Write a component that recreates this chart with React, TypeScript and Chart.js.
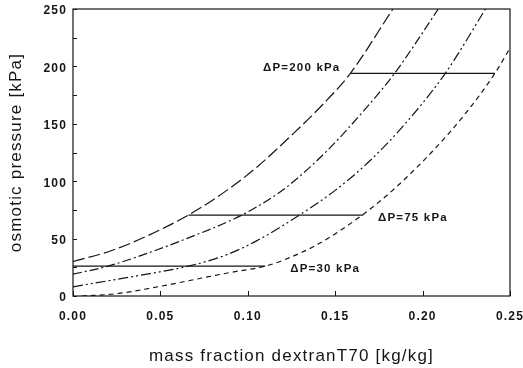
import React, { useEffect, useRef } from "react";
import { Chart, registerables } from "chart.js";

Chart.register(...registerables);

const INK = "#151515";
const FONT = '"Liberation Sans", Arial, Helvetica, sans-serif';

// axis ticks
const X_TICKS = [0, 0.05, 0.1, 0.15, 0.2, 0.25];
const Y_TICKS = [0, 50, 100, 150, 200, 250];
const Y_MINOR = [25, 75, 125, 175, 225];

// curve 1 (long dash)
const C1_X = [0, 0.021, 0.042, 0.066, 0.088, 0.105, 0.125, 0.143, 0.1587, 0.183];
const C1_Y = [30, 39, 52, 70.5, 92, 112, 140, 167, 194, 250];
// curve 2 (dash-dot)
const C2_X = [0, 0.02, 0.044, 0.065, 0.096, 0.113, 0.124, 0.145, 0.165, 0.184, 0.209];
const C2_Y = [19, 26, 38, 50, 70, 85, 97, 126, 159, 194, 250];
// curve 3 (dash-dot-dot)
const C3_X = [0, 0.021, 0.044, 0.066, 0.088, 0.105, 0.129, 0.15, 0.17, 0.19, 0.213, 0.236];
const C3_Y = [8, 13.5, 19.5, 26, 36, 48, 70, 92, 118, 150, 194, 250];
// curve 4 (short dash)
const C4_X = [0.005, 0.025, 0.045, 0.07, 0.09, 0.11, 0.12, 0.14, 0.165, 0.185, 0.205, 0.224, 0.2414, 0.25];
const C4_Y = [0, 2, 7, 14.5, 20.5, 26, 31, 45, 70, 95, 125, 158, 194, 216];

// pressure-difference tie lines
const DP200_X = [0.1587, 0.2414];
const DP200_Y = 194;
const DP75_X = [0.066, 0.166];
const DP75_Y = 70.5;
const DP30_X = [0, 0.11];
const DP30_Y = 26;

// annotations
const LABEL_TEXT = ["\u0394P=200 kPa", "\u0394P=75 kPa", "\u0394P=30 kPa"];
const LABEL_X = [0.153, 0.1745, 0.1243];
const LABEL_Y = [199, 68, 23.5];
const LABEL_ALIGN: CanvasTextAlign[] = ["right", "left", "left"];

const zip = (xs: number[], ys: number[]) => xs.map((x, i) => ({ x, y: ys[i] }));
const hline = (xs: number[], y: number) => xs.map((x) => ({ x, y }));

const curve = (data: { x: number; y: number }[], dash: number[]) => ({
  data,
  showLine: true,
  borderColor: INK,
  borderWidth: 1.2,
  borderDash: dash,
  pointRadius: 0,
  cubicInterpolationMode: "monotone" as const,
  fill: false,
});

const tie = (data: { x: number; y: number }[]) => ({
  data,
  showLine: true,
  borderColor: INK,
  borderWidth: 1.3,
  pointRadius: 0,
  fill: false,
});

const framePlugin = {
  id: "frame",
  beforeDraw(chart: any) {
    chart.ctx.letterSpacing = "1.2px";
  },
  afterDraw(chart: any) {
    const { ctx, chartArea, scales } = chart;
    const { left, right, top, bottom } = chartArea;
    const x = scales.x;
    const y = scales.y;
    ctx.save();
    ctx.strokeStyle = INK;
    ctx.lineWidth = 1.2;
    ctx.strokeRect(left, top, right - left, bottom - top);
    ctx.lineWidth = 1;
    ctx.beginPath();
    [...Y_TICKS, ...Y_MINOR].forEach((v) => {
      const py = Math.round(y.getPixelForValue(v)) + 0.5;
      ctx.moveTo(left, py);
      ctx.lineTo(left + 4, py);
    });
    X_TICKS.forEach((v) => {
      const px = Math.round(x.getPixelForValue(v)) + 0.5;
      ctx.moveTo(px, bottom);
      ctx.lineTo(px, bottom - 5);
    });
    ctx.stroke();
    ctx.fillStyle = INK;
    ctx.font = `bold 11.5px ${FONT}`;
    ctx.textBaseline = "middle";
    LABEL_TEXT.forEach((t, i) => {
      ctx.textAlign = LABEL_ALIGN[i];
      ctx.fillText(t, x.getPixelForValue(LABEL_X[i]), y.getPixelForValue(LABEL_Y[i]));
    });
    ctx.restore();
  },
};

export default function App() {
  const ref = useRef<HTMLCanvasElement | null>(null);

  useEffect(() => {
    if (!ref.current) return;
    const chart = new Chart(ref.current, {
      type: "scatter",
      data: {
        datasets: [
          curve(zip(C1_X, C1_Y), [12, 4]),
          curve(zip(C2_X, C2_Y), [9, 3, 2, 3]),
          curve(zip(C3_X, C3_Y), [10, 3, 2, 3, 2, 3]),
          curve(zip(C4_X, C4_Y), [5, 4]),
          tie(hline(DP200_X, DP200_Y)),
          tie(hline(DP75_X, DP75_Y)),
          tie(hline(DP30_X, DP30_Y)),
        ] as any,
      },
      options: {
        responsive: false,
        animation: false,
        events: [],
        layout: { padding: { top: 9, right: 13, left: 0, bottom: 0 } },
        plugins: { legend: { display: false }, tooltip: { enabled: false } },
        scales: {
          x: {
            type: "linear",
            min: 0,
            max: 0.25,
            afterBuildTicks: (s: any) => {
              s.ticks = X_TICKS.map((value) => ({ value }));
            },
            afterFit: (s: any) => {
              s.height = 72;
              s.paddingLeft = 0;
              s.paddingRight = 0;
            },
            grid: { display: false, drawTicks: false },
            border: { display: false },
            ticks: {
              padding: 13,
              color: INK,
              font: { family: FONT, size: 12, weight: "bold" },
              callback: (v: any) => Number(v).toFixed(2),
            },
            title: {
              display: true,
              text: "mass fraction dextranT70 [kg/kg]",
              color: INK,
              font: { family: FONT, size: 17 },
              padding: { top: 0, bottom: 1 },
            },
          },
          y: {
            type: "linear",
            min: 0,
            max: 250,
            afterBuildTicks: (s: any) => {
              s.ticks = Y_TICKS.map((value) => ({ value }));
            },
            afterFit: (s: any) => {
              s.width = 73;
              s.paddingTop = 0;
              s.paddingBottom = 0;
            },
            grid: { display: false, drawTicks: false },
            border: { display: false },
            ticks: {
              padding: 6,
              labelOffset: 2,
              color: INK,
              font: { family: FONT, size: 12, weight: "bold" },
              callback: (v: any) => String(v),
            },
            title: {
              display: true,
              text: "osmotic pressure [kPa]",
              color: INK,
              font: { family: FONT, size: 17 },
              padding: { top: 6, bottom: 0 },
            },
          },
        },
      },
      plugins: [framePlugin],
    });
    return () => chart.destroy();
  }, []);

  return (
    <div style={{ position: "fixed", left: 0, top: 0, width: 523, height: 368, background: "#fff" }}>
      <canvas ref={ref} width={523} height={368} style={{ display: "block" }} />
    </div>
  );
}
